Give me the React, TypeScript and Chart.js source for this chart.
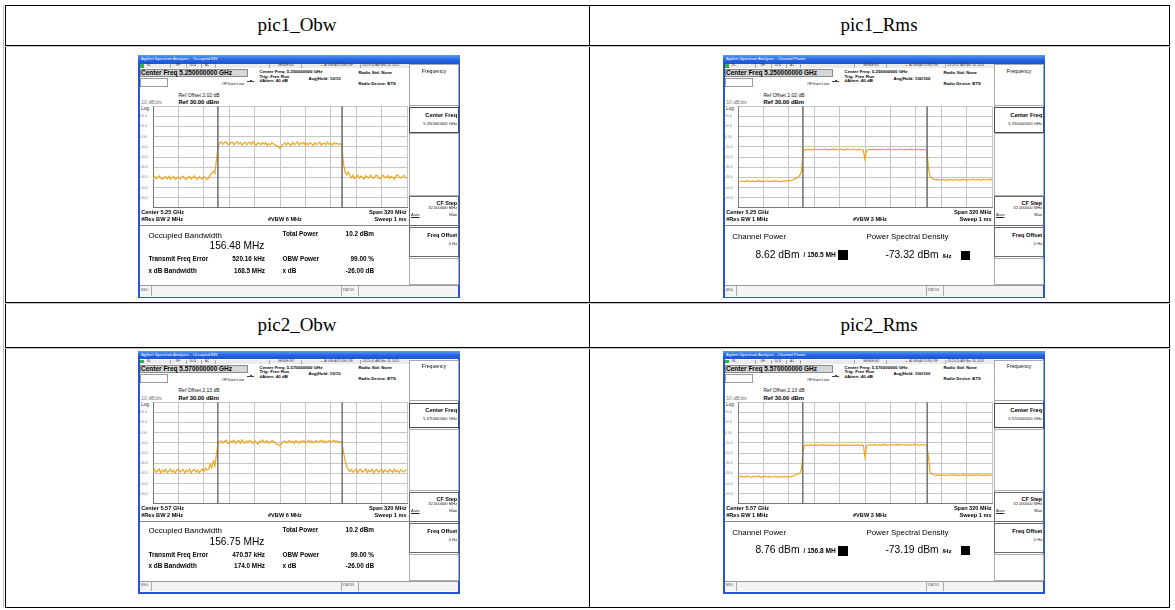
import React, { useEffect, useRef } from "react";
import { Chart, registerables } from "chart.js";

Chart.register(...registerables);

// ---------------- data ----------------
const FREQ_MHZ = [
  -160, -158, -156, -154, -152, -150, -148, -146, -144, -142, -140, -138, -136, -134, -132, -130, -128, -126, -124, -122,
  -120, -118, -116, -114, -112, -110, -108, -106, -104, -102, -100, -98, -96, -94, -92, -90, -88, -86, -84, -82,
  -80, -78, -76, -74, -72, -70, -68, -66, -64, -62, -60, -58, -56, -54, -52, -50, -48, -46, -44, -42,
  -40, -38, -36, -34, -32, -30, -28, -26, -24, -22, -20, -18, -16, -14, -12, -10, -8, -6, -4, -2,
  0, 2, 4, 6, 8, 10, 12, 14, 16, 18, 20, 22, 24, 26, 28, 30, 32, 34, 36, 38,
  40, 42, 44, 46, 48, 50, 52, 54, 56, 58, 60, 62, 64, 66, 68, 70, 72, 74, 76, 78,
  80, 82, 84, 86, 88, 90, 92, 94, 96, 98, 100, 102, 104, 106, 108, 110, 112, 114, 116, 118,
  120, 122, 124, 126, 128, 130, 132, 134, 136, 138, 140, 142, 144, 146, 148, 150, 152, 154, 156, 158,
  160,
];

const PIC1_OBW_DBM = [
  -40.8, -39.2, -41.5, -40.0, -38.6, -41.2, -42.0, -40.4, -39.0, -41.6, -38.9, -41.8, -40.3, -39.1, -42.2, -40.7, -39.4, -41.5, -40.0, -38.7,
  -41.3, -42.3, -40.1, -39.0, -41.7, -40.5, -38.5, -41.0, -42.1, -39.4, -40.8, -41.9, -39.2, -40.4, -42.4, -41.0, -37.8, -35.9,
  -33.8, -36.5, -22.0, -9.8,
  -6.4, -5.2, -7.6, -6.0, -4.9, -7.3, -8.1, -5.8, -5.3, -7.9, -6.2, -5.0, -7.5, -5.7, -8.4, -6.6, -5.4, -8.0, -6.3, -5.5,
  -7.8, -4.8, -7.0, -8.5, -5.9, -6.7, -7.9, -5.6, -7.4, -5.8, -8.8, -6.9, -7.8, -6.0, -7.3, -8.1, -8.9,
  -10.2, -11.6, -9.4,
  -7.6, -6.1, -8.2, -6.0, -7.2, -8.6, -5.7, -7.9, -6.8, -5.0, -8.1, -6.3, -7.4, -5.6, -8.5, -6.5, -7.9, -5.8, -7.1, -8.7,
  -6.0, -7.8, -6.7, -5.4, -8.3, -7.0, -6.2, -8.0, -5.3, -7.7, -6.4, -8.2, -5.9, -7.3, -6.6, -7.6, -6.9,
  -8.4, -26.5, -34.6, -37.8,
  -34.9, -38.2, -40.6, -38.0, -41.2, -39.3, -37.9, -40.9, -38.8, -40.2, -41.6, -38.3, -39.5, -41.0, -37.8, -40.0, -41.3, -38.7, -38.0, -40.4,
  -41.5, -39.0, -37.9, -40.6, -39.8, -38.2, -41.1, -38.9, -40.1, -41.8, -38.6, -37.7, -39.6, -40.8, -39.3, -38.1, -40.0, -40.9,
];

const PIC1_RMS_DBM = [
  -43.6, -44.1, -43.4, -43.9, -44.3, -43.7, -43.2, -43.8, -44.2, -43.5, -43.9, -44.4, -43.6, -43.3, -44.0, -43.7, -44.3, -43.8, -43.4, -44.1,
  -43.9, -43.5, -44.2, -43.7, -43.3, -43.9, -44.4, -43.6, -44.0, -43.5, -43.8, -43.2, -43.6, -43.0, -42.7, -42.2, -41.5, -40.6,
  -39.4, -37.8, -33.5, -15.0,
  -12.6, -12.9, -12.3, -12.7, -13.1, -12.5, -12.8, -12.2, -12.6, -13.0, -12.4, -12.7, -12.9, -12.3, -12.6, -13.2, -12.5, -12.8, -12.1, -12.7,
  -12.4, -12.9, -12.6, -12.2, -12.8, -13.0, -12.5, -12.3, -12.7, -12.9, -12.4, -12.6, -13.1, -12.8, -12.5, -12.7, -12.9,
  -13.4, -22.5, -13.6,
  -12.8, -12.5, -12.9, -12.3, -12.7, -12.6, -13.0, -12.4, -12.8, -12.2, -12.6, -12.9, -12.5, -12.3, -12.8, -13.1, -12.6, -12.4, -12.9, -12.7,
  -12.2, -12.6, -12.8, -12.5, -13.0, -12.4, -12.7, -12.3, -12.9, -12.6, -12.5, -12.8, -12.4, -13.0, -12.6, -12.7, -12.9,
  -13.2, -31.0, -39.2, -41.0,
  -41.6, -42.2, -42.5, -42.1, -42.8, -42.4, -42.0, -42.6, -42.9, -42.3, -42.7, -42.2, -42.5, -43.0, -42.4, -42.1, -42.6, -42.8, -42.3, -42.0,
  -42.5, -42.9, -42.2, -42.6, -42.4, -41.8, -42.3, -42.7, -42.1, -42.5, -42.8, -42.2, -41.9, -42.4, -42.6, -42.0, -42.3, -41.7,
];

const PIC2_OBW_DBM = [
  -38.4, -36.3, -39.1, -37.2, -35.8, -39.6, -36.8, -38.6, -36.0, -39.3, -37.7, -35.7, -38.9, -37.0, -39.8, -36.5, -35.9, -39.0, -37.4, -36.1,
  -39.5, -36.9, -38.5, -35.8, -39.7, -37.2, -36.0, -38.8, -36.7, -39.2, -37.8, -35.6, -38.6, -34.9, -37.0, -35.9, -30.8, -34.6,
  -27.9, -33.0, -20.5, -10.0,
  -9.0, -7.9, -10.3, -8.7, -7.4, -10.0, -11.1, -8.3, -9.1, -7.3, -10.6, -8.6, -7.8, -10.4, -7.0, -9.2, -10.5, -8.1, -9.6, -7.5,
  -8.8, -10.7, -7.7, -9.3, -11.4, -8.4, -9.0, -7.1, -9.9, -8.7, -7.9, -10.5, -9.2, -7.8, -8.9, -10.2, -11.6,
  -11.8, -13.0, -10.4,
  -9.1, -8.2, -10.1, -8.7, -7.7, -9.6, -8.5, -10.4, -7.6, -9.0, -10.6, -8.1, -9.4, -7.9, -9.9, -8.8, -7.5, -9.3, -8.3, -10.2,
  -9.0, -7.7, -9.7, -8.6, -7.3, -9.5, -8.1, -9.9, -8.8, -7.8, -9.2, -8.4, -7.4, -9.0, -8.2, -9.5, -8.9,
  -9.3, -19.0, -27.4, -32.8,
  -35.9, -38.4, -36.3, -39.0, -37.4, -35.8, -39.5, -36.9, -36.1, -38.8, -37.6, -35.6, -39.2, -36.8, -38.3, -36.0, -39.6, -37.2, -36.3, -38.9,
  -37.7, -35.7, -39.3, -36.6, -37.9, -39.0, -36.2, -37.4, -38.9, -35.9, -38.5, -37.0, -39.4, -36.4, -37.8, -38.8, -37.3, -36.0,
];

const PIC2_RMS_DBM = [
  -43.0, -43.5, -42.8, -43.3, -43.7, -43.1, -42.7, -43.4, -43.8, -43.2, -42.9, -43.6, -43.1, -42.6, -43.5, -43.9, -43.2, -42.8, -43.4, -43.7,
  -43.0, -43.6, -43.3, -42.7, -43.8, -43.5, -43.1, -43.9, -43.4, -42.9, -43.6, -43.2, -43.7, -43.3, -42.8, -42.5, -41.9, -41.2,
  -40.5, -39.6, -35.8, -17.5,
  -12.4, -12.1, -12.6, -12.2, -11.9, -12.5, -12.3, -12.0, -12.7, -12.2, -12.4, -11.8, -12.3, -12.6, -12.1, -12.4, -12.0, -12.5, -12.2, -12.7,
  -12.3, -11.9, -12.4, -12.1, -12.6, -12.3, -12.0, -12.5, -12.2, -12.4, -12.1, -12.6, -12.3, -11.9, -12.2, -12.5, -12.3,
  -12.8, -24.3, -13.1,
  -12.2, -11.9, -12.4, -12.0, -11.7, -12.3, -12.1, -11.8, -12.5, -12.0, -11.6, -12.2, -11.9, -12.4, -12.1, -11.7, -12.3, -12.0, -11.8, -12.2,
  -11.5, -12.1, -11.9, -12.4, -11.7, -12.0, -12.3, -11.8, -12.1, -11.6, -12.2, -11.9, -12.4, -12.0, -11.7, -12.1, -12.3,
  -12.4, -24.0, -38.5, -40.6,
  -41.2, -41.7, -42.0, -41.6, -42.2, -41.8, -41.4, -42.1, -41.9, -41.5, -42.3, -41.7, -41.3, -42.0, -41.8, -41.5, -42.2, -41.9, -41.6, -41.3,
  -42.1, -41.7, -41.4, -42.0, -41.8, -41.5, -42.2, -41.6, -41.9, -41.3, -41.8, -42.1, -41.5, -41.7, -42.0, -41.4, -41.8, -41.6,
];

const Y_TICK_VALUES = [30, 20, 10, 0, -10, -20, -30, -40, -50, -60, -70];
const Y_TICK_LABELS = ["", "20.0", "10.0", "0.00", "-10.0", "-20.0", "-30.0", "-40.0", "-50.0", "-60.0", ""];
const SPAN_MHZ = [-160, 160];
const GRID_STEP_MHZ = 32;

const PIC1_OBW_MARKERS = [-78.24, 78.24];
const PIC1_RMS_MARKERS = [-78.25, 78.25];
const PIC2_OBW_MARKERS = [-78.38, 78.38];
const PIC2_RMS_MARKERS = [-78.4, 78.4];

const HEADERS = ["pic1_Obw", "pic1_Rms", "pic2_Obw", "pic2_Rms"];

// ---------------- drawing helpers ----------------
const FONT = "'Liberation Sans', Arial, sans-serif";
const SW = 322; // screenshot width
const SH = 243; // screenshot height

function T(props: {
  x: number; y: number; s: number; b?: boolean; r?: boolean; c?: string; u?: boolean; children: React.ReactNode;
}) {
  const { x, y, s, b, r, c, u, children } = props;
  const style: React.CSSProperties = {
    position: "absolute",
    top: y - s * 0.58,
    fontSize: s,
    lineHeight: `${s * 1.16}px`,
    fontWeight: b ? 700 : 400,
    color: c || "#000",
    whiteSpace: "nowrap",
    fontFamily: FONT,
    textDecoration: u ? "underline" : undefined,
  };
  if (r) style.right = SW - x;
  else style.left = x;
  return <div style={style}>{children}</div>;
}

function Box(props: { x: number; y: number; w: number; h: number; bg?: string; bd?: string; bw?: number }) {
  const { x, y, w, h, bg, bd, bw } = props;
  return (
    <div
      style={{
        position: "absolute",
        left: x,
        top: y,
        width: w,
        height: h,
        background: bg || "transparent",
        border: bd ? `${bw || 0.6}px solid ${bd}` : undefined,
        boxSizing: "border-box",
      }}
    />
  );
}

function Trace({ values, markers }: { values: number[]; markers: number[] }) {
  const ref = useRef<HTMLCanvasElement | null>(null);
  useEffect(() => {
    if (!ref.current) return;
    const yMax = Y_TICK_VALUES[0];
    const yMin = Y_TICK_VALUES[Y_TICK_VALUES.length - 1];
    const gridCfg = { color: "#c6c6c6", lineWidth: 1, drawTicks: false };
    const chart = new Chart(ref.current, {
      type: "line",
      data: {
        datasets: [
          ...markers.map((m) => ({
            data: [
              { x: m, y: yMax },
              { x: m, y: yMin },
            ],
            borderColor: "#6e6e6e",
            borderWidth: 0.8,
            pointRadius: 0,
          })),
          {
            data: FREQ_MHZ.map((f, i) => ({ x: f, y: values[i] })),
            borderColor: "#f0a414",
            borderWidth: 1.15,
            pointRadius: 0,
          },
        ],
      },
      options: {
        animation: false,
        responsive: false,
        events: [],
        layout: { padding: { top: 2, right: 1, bottom: 2, left: 0 } },
        plugins: { legend: { display: false }, tooltip: { enabled: false } },
        scales: {
          x: {
            type: "linear",
            min: SPAN_MHZ[0],
            max: SPAN_MHZ[1],
            ticks: { display: false, stepSize: GRID_STEP_MHZ },
            grid: gridCfg,
            border: { color: "#7a7a7a" },
            afterFit: (s: any) => {
              s.height = 0;
            },
          },
          y: {
            type: "linear",
            min: yMin,
            max: yMax,
            ticks: {
              stepSize: 10,
              font: { size: 3.6, family: FONT },
              color: "#8c8c8c",
              padding: 0,
              crossAlign: "far",
              callback: (v: any) => {
                const i = Y_TICK_VALUES.indexOf(Number(v));
                return i >= 0 ? Y_TICK_LABELS[i] : "";
              },
            },
            grid: gridCfg,
            border: { color: "#7a7a7a" },
            afterFit: (s: any) => {
              s.width = 13;
            },
          },
        },
      },
    } as any);
    return () => chart.destroy();
  }, [values, markers]);
  return (
    <canvas
      ref={ref}
      width={268}
      height={106}
      style={{ position: "absolute", left: 2, top: 49, width: 268, height: 106 }}
    />
  );
}

type ShotProps = {
  left: number;
  top: number;
  kind: "obw" | "rms";
  values: number[];
  markers: number[];
  center: string;
  centerShort: string;
  time: string;
  avg: string;
  refOffset: string;
  rbw: string;
  vbw: string;
  r1?: string; r2?: string; r3?: string; r4?: string;
  cp?: string; cpBw?: string; psd?: string;
};

function Shot(p: ShotProps) {
  const title = p.kind === "obw" ? "Agilent Spectrum Analyzer - Occupied BW" : "Agilent Spectrum Analyzer - Channel Power";
  const sep = (x: number) => <Box x={x} y={9} w={0.5} h={4.2} bg="#a8a8a8" />;
  return (
    <div
      style={{
        position: "absolute",
        left: p.left,
        top: p.top,
        width: SW,
        height: SH,
        background: "#2456d4",
        overflow: "hidden",
        fontFamily: FONT,
      }}
    >
      <div
        style={{
          position: "absolute",
          left: 0,
          top: 0,
          width: SW,
          height: 8.5,
          background: "linear-gradient(#5a98f8, #2363e4 55%, #1b55d2)",
        }}
      />
      <T x={3} y={4.4} s={4.1} c="#fff">{title}</T>
      <Box x={1.6} y={8.5} w={SW - 3.2} h={SH - 10} bg="#fff" />

      {/* status row */}
      <Box x={1.6} y={9} w={269} h={4.2} bg="#ebebeb" />
      <Box x={2.4} y={9.4} w={3.4} h={3.4} bg="#2db83a" />
      <T x={9} y={11.1} s={3.1} c="#333">RL</T>
      {sep(31.6)}
      <T x={38} y={11.1} s={3.1} c="#333">RF</T>
      {sep(48.3)}
      <T x={51.5} y={11.1} s={3.1} c="#333">50 Ω</T>
      {sep(63.3)}
      <T x={67} y={11.1} s={3.1} c="#333">AC</T>
      {sep(77.3)}
      {sep(131)}
      <T x={140} y={11.1} s={3.1} c="#333">SENSE:INT</T>
      {sep(163)}
      <T x={182} y={11.1} s={3.2} c="#c8a000">▲</T>
      <T x={186} y={11.1} s={3.1} c="#333">ALIGN AUTO/NO RF</T>
      {sep(222.3)}
      <T x={224.5} y={11.1} s={3.1} c="#333">{p.time}</T>

      {/* center freq box */}
      <Box x={1.8} y={14} w={108.5} h={8.4} bg="#d6d6d6" bd="#8a8a8a" bw={0.5} />
      <T x={3} y={18.2} s={6.5} b>{`Center Freq ${p.center}`}</T>
      <Box x={1.8} y={23} w={28} h={9.2} bg="#fff" bd="#9a9a9a" bw={0.5} />
      <Box x={109} y={25.6} w={7} h={0.6} bg="#444" />
      <Box x={111.5} y={24.8} w={2} h={2} bg="#444" />
      <T x={83.5} y={29.6} s={4} c="#222">#IFGain:Low</T>

      <T x={121.5} y={16.6} s={4.4} b>{`Center Freq: ${p.center}`}</T>
      <T x={121.5} y={21.3} s={4.4} b>Trig: Free Run</T>
      <T x={121.5} y={25.8} s={4.4} b>#Atten: 40 dB</T>
      <T x={170.5} y={23.3} s={4.3} b>{`Avg|Hold: ${p.avg}`}</T>
      <T x={220.5} y={17.3} s={4.3} b>Radio Std: None</T>
      <T x={220.5} y={29} s={4.2} b>Radio Device: BTS</T>

      {/* ref text */}
      <T x={40.5} y={40.8} s={5} c="#111">{`Ref Offset ${p.refOffset}`}</T>
      <T x={3.2} y={48.2} s={5} c="#777">10 dB/div</T>
      <T x={40.5} y={47.5} s={5.9} b>Ref 30.00 dBm</T>
      <T x={3} y={54} s={4.8} c="#333">Log</T>

      <Trace values={p.values} markers={p.markers} />

      {/* below plot */}
      <T x={3.2} y={157.4} s={5.6} b>{`Center  ${p.centerShort}`}</T>
      <T x={3.2} y={164.6} s={5.6} b>{`#Res BW  ${p.rbw}`}</T>
      <T x={130} y={164.6} s={5.6} b>{`#VBW  ${p.vbw}`}</T>
      <T x={268.5} y={157.4} s={5.6} b r>Span 320 MHz</T>
      <T x={268.5} y={164.6} s={5.6} b r>Sweep  1 ms</T>

      <Box x={1.6} y={170.4} w={269} h={0.7} bg="#8a8a8a" />

      {p.kind === "obw" ? (
        <>
          <T x={10.5} y={180.2} s={8}>Occupied Bandwidth</T>
          <T x={71.5} y={191} s={10.2}>{p.r1}</T>
          <T x={144.5} y={179.2} s={6.4} b>Total Power</T>
          <T x={236} y={179.2} s={6.4} b r>{p.r2}</T>
          <T x={10.5} y={204.2} s={6.4} b>Transmit Freq Error</T>
          <T x={127} y={204.2} s={6.4} b r>{p.r3}</T>
          <T x={144.5} y={204.2} s={6.4} b>OBW Power</T>
          <T x={236} y={204.2} s={6.4} b r>99.00 %</T>
          <T x={10.5} y={215.6} s={6.4} b>x dB Bandwidth</T>
          <T x={127} y={215.6} s={6.4} b r>{p.r4}</T>
          <T x={144.5} y={215.6} s={6.4} b>x dB</T>
          <T x={236} y={215.6} s={6.4} b r>-26.00 dB</T>
        </>
      ) : (
        <>
          <T x={9.2} y={181.8} s={7.9}>Channel Power</T>
          <T x={32.4} y={199.6} s={10.3}>{p.cp}</T>
          <T x={80.5} y={200.3} s={6.6} b>{`/ ${p.cpBw}`}</T>
          <Box x={115} y={195} w={10} h={10} bg="#000" />
          <T x={143.4} y={181.8} s={7.9}>Power Spectral Density</T>
          <T x={162.4} y={199.6} s={10.3}>{p.psd}</T>
          <T x={219.4} y={200.3} s={6.2} b>/Hz</T>
          <Box x={238.4} y={195.8} w={9} h={9} bg="#000" />
        </>
      )}

      {/* bottom status bar */}
      <Box x={1.6} y={230.2} w={SW - 3.2} h={10.5} bg="#f3f3f3" />
      <Box x={1.6} y={230.2} w={SW - 3.2} h={0.6} bg="#9a9a9a" />
      <T x={3} y={235.4} s={3} c="#555">MSG</T>
      <Box x={12.5} y={230.5} w={0.5} h={10} bg="#aaa" />
      <Box x={202.5} y={230.5} w={0.5} h={10} bg="#aaa" />
      <T x={204.5} y={235.4} s={3} c="#555">STATUS</T>
      <Box x={219.5} y={230.5} w={0.5} h={10} bg="#aaa" />

      {/* softkey panel */}
      <Box x={270.6} y={9} w={0.7} h={221.5} bg="#9a9a9a" />
      <Box x={271} y={9.3} w={49.6} h={41.5} bd="#a8a8a8" bw={0.6} />
      <T x={296} y={15.8} s={5.2} c="#111">
        <span style={{ display: "inline-block", transform: "translateX(-50%)" }}>Frequency</span>
      </T>
      <Box x={271} y={52} w={49.6} h={25.6} bd="#4a4a4a" bw={0.9} />
      <T x={319.2} y={60.2} s={5.7} b r>Center Freq</T>
      <T x={319.2} y={69} s={4.2} r c="#222">{p.center}</T>
      <Box x={271} y={78.2} w={49.6} h={62.4} bd="#b0b0b0" bw={0.6} />
      <Box x={271} y={141.2} w={49.6} h={30.2} bd="#6a6a6a" bw={0.8} />
      <T x={319.2} y={148.4} s={5.5} b r>CF Step</T>
      <T x={319.2} y={153.8} s={4.1} r c="#222">32.000000 MHz</T>
      <T x={273} y={160.8} s={4.1} u c="#222">Auto</T>
      <T x={319.2} y={160.8} s={4.1} r c="#222">Man</T>
      <Box x={271} y={172.2} w={49.6} h={30.2} bd="#6a6a6a" bw={0.8} />
      <T x={319.2} y={180.3} s={5.6} b r>Freq Offset</T>
      <T x={319.2} y={189.6} s={4.1} r c="#222">0 Hz</T>
      <Box x={271} y={203.2} w={49.6} h={27} bd="#b0b0b0" bw={0.6} />
    </div>
  );
}

function Line({ x, y, w, h, c }: { x: number; y: number; w: number; h: number; c: string }) {
  return <div style={{ position: "absolute", left: x, top: y, width: w, height: h, background: c }} />;
}

function Header({ cx, cy, text }: { cx: number; cy: number; text: string }) {
  return (
    <div
      style={{
        position: "absolute",
        left: cx - 150,
        width: 300,
        top: cy - 12,
        height: 24,
        lineHeight: "24px",
        textAlign: "center",
        fontFamily: "'Liberation Serif', 'Times New Roman', serif",
        fontSize: 19,
        color: "#000",
      }}
    >
      {text}
    </div>
  );
}

export default function App() {
  return (
    <div
      style={{
        position: "absolute",
        left: 0,
        top: 0,
        width: 1175,
        height: 610,
        background: "#fff",
        overflow: "hidden",
      }}
    >
      {/* table grid */}
      <Line x={3} y={5} w={1} h={603} c="#c4c4c4" />
      <Line x={5} y={5} w={1} h={603} c="#000" />
      <Line x={1169} y={5} w={1} h={603} c="#000" />
      <Line x={589} y={5} w={1} h={603} c="#000" />
      <Line x={5} y={5} w={1165} h={1} c="#000" />
      <Line x={5} y={45} w={1165} h={1} c="#000" />
      <Line x={5} y={46} w={1165} h={1} c="#c8c8c8" />
      <Line x={5} y={302} w={1165} h={1} c="#000" />
      <Line x={5} y={303} w={1165} h={1} c="#c8c8c8" />
      <Line x={5} y={347} w={1165} h={1} c="#000" />
      <Line x={5} y={348} w={1165} h={1} c="#c8c8c8" />
      <Line x={5} y={607} w={1165} h={1} c="#000" />

      <Header cx={297} cy={25} text={HEADERS[0]} />
      <Header cx={879} cy={25} text={HEADERS[1]} />
      <Header cx={297} cy={325} text={HEADERS[2]} />
      <Header cx={879} cy={325} text={HEADERS[3]} />

      <Shot
        left={138}
        top={55}
        kind="obw"
        values={PIC1_OBW_DBM}
        markers={PIC1_OBW_MARKERS}
        center="5.250000000 GHz"
        centerShort="5.25 GHz"
        time="03:29:14 AM Mar 18, 2023"
        avg="10/10"
        refOffset="2.02 dB"
        rbw="2 MHz"
        vbw="6 MHz"
        r1="156.48 MHz"
        r2="10.2 dBm"
        r3="520.16 kHz"
        r4="168.5 MHz"
      />
      <Shot
        left={723}
        top={55}
        kind="rms"
        values={PIC1_RMS_DBM}
        markers={PIC1_RMS_MARKERS}
        center="5.250000000 GHz"
        centerShort="5.25 GHz"
        time="03:29:27 AM Mar 18, 2023"
        avg="100/100"
        refOffset="2.02 dB"
        rbw="1 MHz"
        vbw="3 MHz"
        cp="8.62 dBm"
        cpBw="156.5 MH"
        psd="-73.32 dBm"
      />
      <Shot
        left={138}
        top={350.5}
        kind="obw"
        values={PIC2_OBW_DBM}
        markers={PIC2_OBW_MARKERS}
        center="5.570000000 GHz"
        centerShort="5.57 GHz"
        time="03:25:05 AM Mar 18, 2023"
        avg="10/10"
        refOffset="2.13 dB"
        rbw="2 MHz"
        vbw="6 MHz"
        r1="156.75 MHz"
        r2="10.2 dBm"
        r3="470.57 kHz"
        r4="174.0 MHz"
      />
      <Shot
        left={723}
        top={350.5}
        kind="rms"
        values={PIC2_RMS_DBM}
        markers={PIC2_RMS_MARKERS}
        center="5.570000000 GHz"
        centerShort="5.57 GHz"
        time="03:25:20 AM Mar 18, 2023"
        avg="100/100"
        refOffset="2.13 dB"
        rbw="1 MHz"
        vbw="3 MHz"
        cp="8.76 dBm"
        cpBw="156.8 MH"
        psd="-73.19 dBm"
      />
    </div>
  );
}
